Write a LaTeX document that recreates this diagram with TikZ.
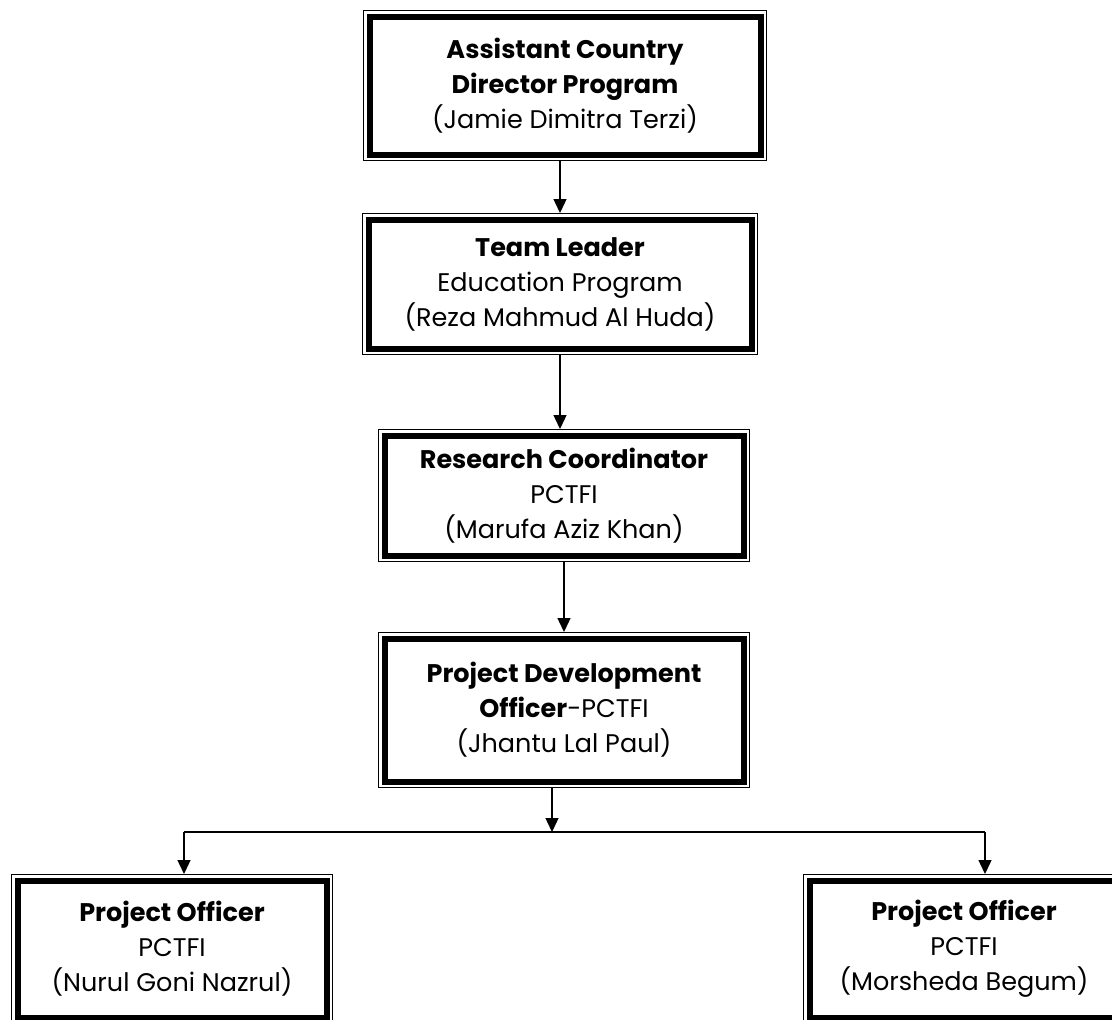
\documentclass[tikz,border=0pt]{standalone}
\usepackage{fontspec}
\setmainfont{Poppins}
\usepackage{tikz}
\usetikzlibrary{arrows.meta, calc}

\begin{document}
\begin{tikzpicture}[x=1pt, y=-1pt,
    orgbox/.style={draw, line width=6pt, outer sep=6.5pt, inner sep=0pt, align=center,
                   font=\fontsize{25.5}{35}\selectfont},
    thinframe/.style={line width=1pt},
    flow/.style={line width=1.4pt, -{Triangle[width=13pt, length=14pt]}}]
  \fill[white] (0,0) rectangle (1112,1020);
  \useasboundingbox (0,0) rectangle (1112,1020);
  \clip (0,0) rectangle (1112,1020);

  % chain of posts
  \node[orgbox, minimum width=391pt, minimum height=138pt] (acd) at (565,85.5)
    {\textbf{Assistant Country}\\\textbf{Director Program}\\(Jamie Dimitra Terzi)};
  \node[orgbox, minimum width=383pt, minimum height=129pt] (tl) at (560,284)
    {\textbf{Team Leader}\\Education Program\\(Reza Mahmud Al Huda)};
  \node[orgbox, minimum width=359pt, minimum height=120pt] (rc) at (564,495.5)
    {\textbf{Research Coordinator}\\PCTFI\\(Marufa Aziz Khan)};
  \node[orgbox, minimum width=359pt, minimum height=143pt] (pdo) at (564,710)
    {\textbf{Project Development}\\\textbf{Officer}-PCTFI\\(Jhantu Lal Paul)};
  \node[orgbox, minimum width=309pt, minimum height=137pt] (poa) at (172,949)
    {\textbf{Project Officer}\\PCTFI\\(Nurul Goni Nazrul)};
  \node[orgbox, minimum width=309pt, minimum height=137pt] (pob) at (964,949)
    {\textbf{Project Officer}\\PCTFI\\(Morsheda Begum)};

  % thin outer frames
  \foreach \n in {acd, tl, rc, pdo, poa, pob}
    \draw[thinframe] ([shift={(0.5pt,-0.5pt)}]\n.north west) rectangle ([shift={(-0.5pt,0.5pt)}]\n.south east);

  \draw[flow] (tl.north |- acd.south) -- (tl.north);
  \draw[flow] (tl.south) -- (tl.south |- rc.north);
  \draw[flow] (rc.south) -- (pdo.north);

  \coordinate (split) at (552,832);
  \coordinate (branchL) at (184,832);
  \coordinate (branchR) at (985,832);
  \draw[flow] (split |- pdo.south) -- (split);
  \draw[line width=1.4pt] (branchL) -- (branchR);
  \draw[flow] (branchL) -- (branchL |- poa.north);
  \draw[flow] (branchR) -- (branchR |- pob.north);
\end{tikzpicture}
\end{document}
